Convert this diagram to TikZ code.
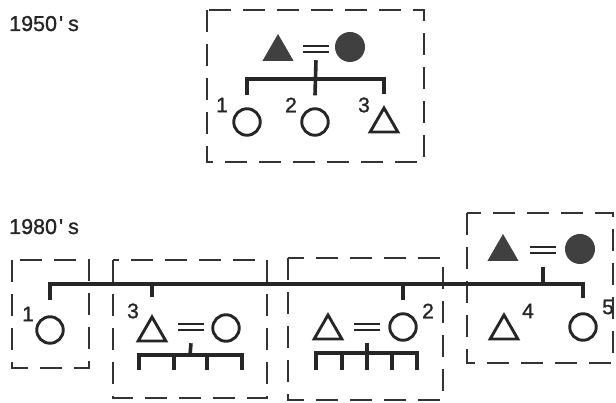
\documentclass[tikz,border=0pt]{standalone}
\usepackage{fontspec}
\setmainfont{Liberation Sans}
\newfontfamily\labfont[FakeBold=1.2]{Liberation Sans}
\usetikzlibrary{shapes.geometric}
\begin{document}
\begin{tikzpicture}[x=1pt,y=-1pt,
  kin/.style={draw=black!85, line width=3.6pt},
  grp/.style={draw=black!80, line width=2.3pt, dash pattern=on 22pt off 12pt},
  fem/.style={circle, draw=black!85, line width=2.9pt, minimum size=26.5pt, inner sep=0pt},
  femf/.style={circle, fill=black!75, draw=black!75, line width=1pt, minimum size=29pt, inner sep=0pt},
  mal/.style={regular polygon, regular polygon sides=3, draw=black!85, line width=2.9pt, minimum size=32pt, inner sep=0pt},
  malf/.style={regular polygon, regular polygon sides=3, fill=black!75, draw=black!75, line width=1pt, minimum size=34pt, inner sep=0pt},
  eqs/.style={minimum width=26pt, minimum height=10.5pt, inner sep=0pt, outer sep=0pt,
    path picture={\draw[line width=2.3pt, black!85]
      ([yshift=-2.2pt]path picture bounding box.north west) -- ([yshift=-2.2pt]path picture bounding box.north east)
      ([yshift=2.2pt]path picture bounding box.south west) -- ([yshift=2.2pt]path picture bounding box.south east);}},
  num/.style={font=\labfont\fontsize{21}{21}\selectfont, text=black!85, inner sep=0pt},
  head/.style={font=\labfont\fontsize{21.5}{21.5}\selectfont, text=black!85, inner sep=0pt, anchor=base west}]
\useasboundingbox (0,0) rectangle (616,403);

% ---------- 1950's ----------
\node[head] (h1) at (9,31) {1950\kern2pt'\kern5pt s};
\draw[grp] (207,10) rectangle (424,162);
\node[malf] (fA) at (278,52) {};
\node[eqs] (eqA) at (316,49) {};
\node[femf] (mA) at (350,47) {};
\node[fem] (kA) at (247,122) {};
\node[fem] (kB) at (315,122) {};
\node[mal] (kC) at (384,124) {};
\node[num] (nA) at (222,105) {1};
\node[num] (nB) at (291,105) {2};
\node[num] (nC) at (364,105) {3};
\coordinate (barA) at (316,79);
\draw[kin] ([yshift=-6pt]eqA.south) -- ([yshift=12pt]kB.north);
\draw[kin] ([yshift=12pt]kA.north) |- (barA) -| ([yshift=11pt]kC.north);

% ---------- 1980's ----------
\node[head] (h2) at (9,234) {1980\kern2pt'\kern5pt s};
\draw[grp] (12,260) rectangle (89,368);
\draw[grp] (113,260) rectangle (267,398);
\draw[grp] (288,258) rectangle (443,400);
\draw[grp] (467,213) rectangle (613,363);

% parents
\node[malf] (fD) at (503,252) {};
\node[eqs] (eqD) at (543,250) {};
\node[femf] (mD) at (580,249) {};

% children
\node[fem] (c1) at (50,330) {};
\node[num] (n1) at (28,314) {1};
\node[mal] (t3) at (152,333) {};
\node[num] (n3) at (133,311) {3};
\node[eqs] (eqB) at (191,327) {};
\node[fem] (wB) at (226,328) {};
\node[mal] (hC) at (328,331) {};
\node[eqs] (eqC) at (367,327) {};
\node[fem] (c2) at (403,327) {};
\node[num] (n2) at (428,311) {2};
\node[mal] (t4) at (504,331) {};
\node[num] (n4) at (528,311) {4};
\node[fem] (c5) at (583,327) {};
\node[num] (n5) at (608,307) {5};

\coordinate (barB) at (543,284);
\draw[kin] ([yshift=-12pt]eqD.south) -- (barB);
\draw[kin] ([yshift=15pt]c1.north) |- (barB) -| ([yshift=14pt]c5.north);
\draw[kin] ([yshift=17pt]t3.north) -- (t3.north |- barB);
\draw[kin] ([yshift=12pt]c2.north) -- (c2.north |- barB);

% grandchildren of 3
\coordinate (kbB) at (190,355);
\coordinate (gB1) at (139,370);
\coordinate (gB2) at (174,370);
\coordinate (gB3) at (207,370);
\coordinate (gB4) at (242,370);
\draw[kin] ([yshift=-11pt]eqB.south) -- (kbB);
\draw[kin] (gB1) |- (kbB) -| (gB4);
\draw[kin] (gB2) -- (gB2 |- kbB);
\draw[kin] (gB3) -- (gB3 |- kbB);

% grandchildren of 2
\coordinate (kbC) at (367,353);
\coordinate (gC1) at (316,370);
\coordinate (gC2) at (342,370);
\coordinate (gC3) at (367,370);
\coordinate (gC4) at (392,370);
\coordinate (gC5) at (417,370);
\draw[kin] ([yshift=-11pt]eqC.south) -- (gC3);
\draw[kin] (gC1) |- (kbC) -| (gC5);
\draw[kin] (gC2) -- (gC2 |- kbC);
\draw[kin] (gC4) -- (gC4 |- kbC);
\end{tikzpicture}
\end{document}
